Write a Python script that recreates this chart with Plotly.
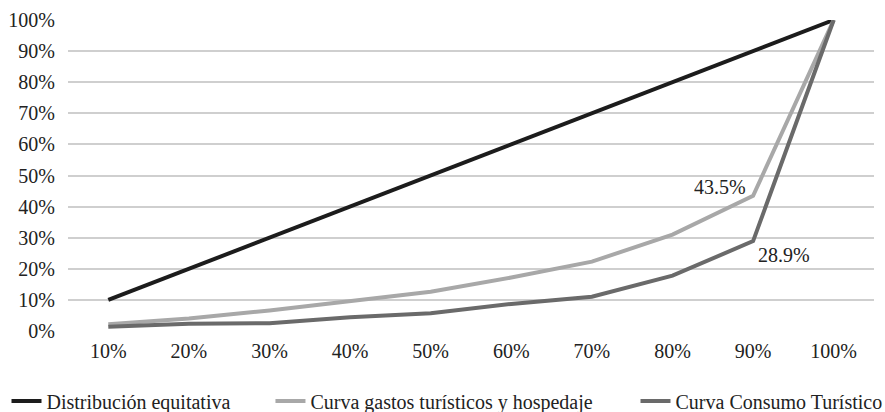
import plotly.graph_objects as go

categories = ["10%", "20%", "30%", "40%", "50%", "60%", "70%", "80%", "90%", "100%"]
equitativa = [10, 20, 30, 40, 50, 60, 70, 80, 90, 100]
gastos = [2.2, 4.0, 6.6, 9.5, 12.6, 17.2, 22.3, 31.0, 43.5, 100]
consumo = [1.4, 2.3, 2.5, 4.4, 5.7, 8.7, 11.0, 17.8, 28.9, 100]
names = ["Distribución equitativa", "Curva gastos turísticos y hospedaje", "Curva Consumo Turístico"]
y_ticks = [0, 10, 20, 30, 40, 50, 60, 70, 80, 90, 100]

FONT = "Liberation Serif"
FS = 20
colors = ["#1c1c1c", "#a8a8a8", "#6a6a6a"]
series = [equitativa, gastos, consumo]
legend_ids = ["legend", "legend2", "legend3"]
legend_x = [-0.0763, 0.2512, 0.7041]

fig = go.Figure()
for s, n, c, lg in zip(series, names, colors, legend_ids):
    fig.add_trace(go.Scatter(x=categories, y=s, name=n, mode="lines", legend=lg,
                             line=dict(color=c, width=4)))

fig.add_annotation(x=categories[8], y=gastos[8], text=f"{gastos[8]}%", showarrow=False,
                   xshift=-33, yshift=9, font=dict(family=FONT, size=FS, color="#222"))
fig.add_annotation(x=categories[8], y=consumo[8], text=f"{consumo[8]}%", showarrow=False,
                   xshift=31, yshift=-14, font=dict(family=FONT, size=FS, color="#222"))

leg_common = dict(orientation="h", xanchor="left", y=-0.225, yanchor="middle",
                  bgcolor="rgba(0,0,0,0)", font=dict(family=FONT, size=FS, color="#222"))
fig.update_layout(
    width=885, height=412,
    margin=dict(l=68, r=11, t=20, b=81, autoexpand=False),
    plot_bgcolor="white", paper_bgcolor="white",
    font=dict(family=FONT, size=FS, color="#222"),
    showlegend=True,
    legend=dict(x=legend_x[0], **leg_common),
    legend2=dict(x=legend_x[1], **leg_common),
    legend3=dict(x=legend_x[2], **leg_common),
    xaxis=dict(type="category", range=[-0.5, 9.5], showgrid=False, showline=False,
               zeroline=False, ticks="", ticklabelstandoff=6,
               tickfont=dict(family=FONT, size=FS)),
    yaxis=dict(range=[0, 100], tickvals=y_ticks, ticktext=[f"{v}%" for v in y_ticks],
               showgrid=True, gridcolor="#cfcfcf", gridwidth=1.5, zeroline=False,
               showline=False, ticks="", ticklabelstandoff=12,
               tickfont=dict(family=FONT, size=FS)),
)
fig.write_html("out.html")
